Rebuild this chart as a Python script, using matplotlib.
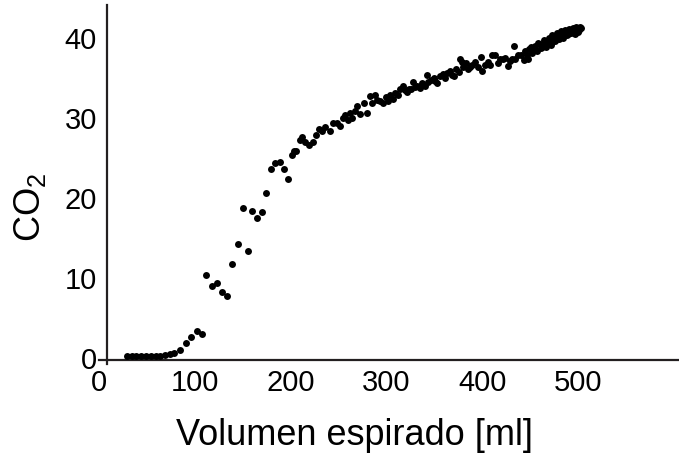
import matplotlib
matplotlib.use("Agg")
import matplotlib.pyplot as plt

# expired volume [ml] and CO2
volume = [
    29, 34, 39, 44, 49, 54, 59, 64, 69, 74, 78,
    85, 91, 96, 102, 107,
    112, 118, 123, 128, 133, 139, 145, 150, 155, 160, 165, 170, 174,
    179, 184, 189, 193, 197,
    201, 203, 206, 210, 212, 215, 219, 223, 226, 229, 233, 236, 241, 244,
    248, 251, 254, 257, 260, 262, 264, 267, 269, 272, 276, 280, 283, 285,
    288, 290, 293, 296, 299, 301, 304, 307, 309, 312, 314, 317, 319, 321,
    323, 325, 328, 330, 332, 335, 337, 340, 342, 343, 346, 349, 351, 353,
    356, 359, 361, 363, 366, 368, 370, 372, 375, 377, 379, 380, 383, 385,
    387, 389, 392, 395, 398, 400, 403, 406, 408, 410, 413, 416, 418, 421,
    424, 427, 429, 431, 433, 434, 437, 440, 443, 444, 446, 448, 449, 451,
    452, 454, 455, 457, 458, 460, 461, 462, 464, 465, 466, 467, 469, 470,
    471, 472, 473, 474, 476, 477, 478, 479, 480, 481, 482, 483, 484, 485,
    486, 487, 488, 489, 490, 491, 492, 493, 494, 495, 496, 497, 498, 499,
    500, 501, 502, 503,
]
co2 = [
    0.2, 0.2, 0.2, 0.2, 0.2, 0.3, 0.3, 0.3, 0.4, 0.5, 0.6,
    1.0, 1.9, 2.6, 3.4, 3.0,
    10.4, 9.0, 9.4, 8.2, 7.8, 11.8, 14.2, 18.8, 13.4, 18.4, 17.5, 18.3, 20.6,
    23.6, 24.3, 24.5, 23.6, 22.4,
    25.4, 25.9, 25.9, 27.2, 27.6, 27.0, 26.6, 27.0, 27.8, 28.6, 28.3, 28.8, 28.4, 29.3,
    29.4, 29.0, 30.0, 30.3, 29.7, 30.6, 30.0, 30.9, 31.5, 30.5, 31.8, 30.6, 32.7, 31.9,
    32.8, 32.2, 32.1, 31.8, 32.6, 32.1, 32.8, 32.4, 33.1, 32.9, 33.6, 34.0, 33.5, 33.2,
    33.6, 33.6, 34.5, 33.9, 34.0, 33.7, 34.3, 34.0, 35.3, 34.5, 34.7, 35.0, 34.6, 34.4,
    35.2, 35.5, 35.0, 35.6, 35.9, 35.4, 35.2, 36.1, 35.7, 37.3, 37.0, 36.4, 36.8, 36.1,
    36.3, 36.6, 37.0, 36.4, 37.6, 35.9, 36.6, 37.0, 36.6, 37.8, 37.8, 36.8, 37.4, 37.3,
    37.5, 36.5, 37.1, 37.3, 39.0, 37.3, 37.8, 37.8, 37.2, 38.3, 37.9, 37.4, 38.6, 38.9,
    38.1, 38.5, 39.0, 38.4, 39.4, 39.2, 38.7, 38.8, 39.7, 39.5, 38.9, 39.2, 40.0, 39.7,
    39.1, 39.4, 40.3, 40.1, 39.6, 39.8, 40.6, 40.4, 39.9, 40.1, 40.8, 40.6, 40.0, 40.3,
    41.0, 40.8, 40.4, 40.5, 41.1, 40.9, 40.6, 40.7, 41.2, 40.8, 40.5, 40.8, 41.3, 41.0,
    40.7, 41.0, 41.3, 41.2,
]

x_ticks = [0, 100, 200, 300, 400, 500]
y_ticks = [0, 10, 20, 30, 40]

plt.rcParams["font.family"] = ["Liberation Sans", "DejaVu Sans"]
plt.rcParams["mathtext.fontset"] = "custom"
plt.rcParams["mathtext.rm"] = "Liberation Sans"

ink = "#231f20"

fig = plt.figure(figsize=(6.79, 4.59), dpi=100)
ax = fig.add_axes([0.1458, 0.2061, 0.8542, 0.783])

ax.scatter(volume, co2, s=25, color="black", linewidths=0, zorder=3)

ax.set_xlim(0, 605)
ax.set_ylim(-0.8, 44.1)
ax.set_xticks(x_ticks)
ax.set_yticks(y_ticks)

for side in ("top", "right"):
    ax.spines[side].set_visible(False)
ax.spines["left"].set_position(("data", 8))
ax.spines["bottom"].set_position(("data", -0.2))
for side in ("left", "bottom"):
    ax.spines[side].set_linewidth(1.6)
    ax.spines[side].set_color(ink)

ax.tick_params(axis="both", length=0, labelsize=21, labelcolor="black")
ax.tick_params(axis="y", pad=7)
ax.tick_params(axis="x", pad=7)

ax.set_xlabel("Volumen espirado [ml]", fontsize=26, va="center")
ax.xaxis.set_label_coords(0.441, -0.198)
ax.set_ylabel(r"CO$_\mathrm{2}$", fontsize=26, va="center")
ax.yaxis.set_label_coords(-0.119, 0.438)

fig.savefig("out.png", dpi=100)
